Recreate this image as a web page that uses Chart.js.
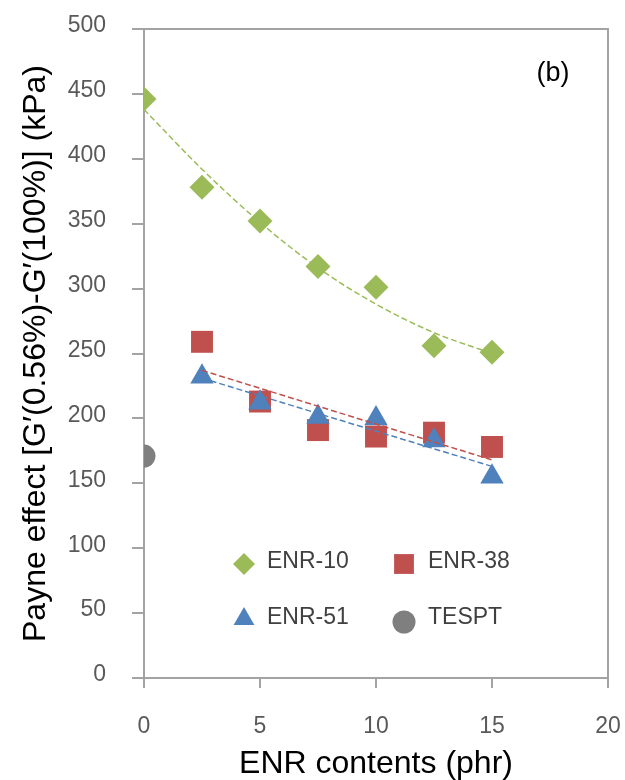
<!DOCTYPE html>
<html>
<head>
<meta charset="utf-8">
<script src="https://cdn.jsdelivr.net/npm/chart.js@4.4.1/dist/chart.umd.min.js"></script>
<style>
  html, body { margin: 0; padding: 0; background: #ffffff; }
  #wrap { width: 625px; height: 780px; position: relative; }
</style>
</head>
<body>
<div id="wrap"><canvas id="c" width="625" height="780"></canvas></div>
<script>
// ---- data ----
const enrContents = [2.5, 5, 7.5, 10, 12.5, 15];
const enr10X = [0, 2.5, 5, 7.5, 10, 12.5, 15];
const enr10Y = [446, 378, 352, 317, 301, 256, 251];
const enr38Y = [259, 213, 191, 186, 189, 178];
const enr51Y = [232, 212, 201, 200, 183, 155];
const tesptX = [0];
const tesptY = [171];

// trend lines (as drawn in the reference)
const trend10X = [0, 2.5, 5, 7.5, 10, 12.5, 15];
const trend10Y = [438, 392, 351, 316, 288, 266, 250];
const trend38X = [2.5, 15];
const trend38Y = [237, 168];
const trend51X = [2.5, 15];
const trend51Y = [231, 163];

const xTicks = [0, 5, 10, 15, 20];
const yTicks = [0, 50, 100, 150, 200, 250, 300, 350, 400, 450, 500];

const GREEN = '#9BBB59', RED = '#C0504D', BLUE = '#4F81BD', GRAY = '#7F7F7F';
const AXIS = '#A3A3A3';

const pts = (xs, ys) => xs.map((x, i) => ({ x: x, y: ys[i] }));

function trendDs(label, xs, ys, color) {
  return {
    label: label, data: pts(xs, ys), showLine: true, borderColor: color,
    borderWidth: 1.5, borderDash: [6, 3], pointRadius: 0, pointHoverRadius: 0,
    fill: false, tension: 0.4, cubicInterpolationMode: 'monotone'
  };
}
function markDs(label, xs, ys, color, style, radius) {
  return {
    label: label, data: pts(xs, ys), showLine: false, backgroundColor: color,
    borderColor: color, borderWidth: 0, pointStyle: style, pointRadius: radius,
    pointHoverRadius: radius
  };
}

const datasets = [
  trendDs('ENR-10 trend', trend10X, trend10Y, GREEN),
  trendDs('ENR-38 trend', trend38X, trend38Y, RED),
  trendDs('ENR-51 trend', trend51X, trend51Y, BLUE),
  markDs('ENR-51', enrContents, enr51Y, BLUE, 'triangle', 13.5),
  markDs('ENR-38', enrContents, enr38Y, RED, 'rect', 15.5),
  markDs('ENR-10', enr10X, enr10Y, GREEN, 'rectRot', 12.5),
  markDs('TESPT', tesptX, tesptY, GRAY, 'circle', 11.5)
];

// legend layout inside the plot (2 x 2)
const legendItems = [
  { label: 'ENR-10', mx: 244, my: 564, tx: 267, ty: 562, r: 11 },
  { label: 'ENR-38', mx: 404, my: 564, tx: 428, ty: 562, r: 14 },
  { label: 'ENR-51', mx: 244, my: 619, tx: 267, ty: 618, r: 12 },
  { label: 'TESPT',  mx: 404, my: 622, tx: 428, ty: 618, r: 11.5 }
];

const framePlugin = {
  id: 'frame',
  beforeDatasetsDraw(chart) {
    const a = chart.chartArea, ctx = chart.ctx;
    ctx.save();
    ctx.strokeStyle = AXIS;
    ctx.lineWidth = 2;
    ctx.beginPath();
    ctx.moveTo(a.left, a.top);
    ctx.lineTo(a.right, a.top);
    ctx.lineTo(a.right, a.bottom);
    ctx.stroke();
    ctx.restore();
  },
  afterDraw(chart) {
    const ctx = chart.ctx;
    ctx.save();
    legendItems.forEach(it => {
      const ds = chart.data.datasets.find(d => d.label === it.label);
      ctx.fillStyle = ds.backgroundColor;
      ctx.strokeStyle = ds.backgroundColor;
      ctx.lineWidth = 0;
      Chart.helpers.drawPoint(ctx, { pointStyle: ds.pointStyle, radius: it.r, borderWidth: 0, rotation: 0 }, it.mx, it.my);
      ctx.fillStyle = '#404040';
      ctx.font = '23px "Liberation Sans", Arial, sans-serif';
      ctx.textAlign = 'left';
      ctx.textBaseline = 'middle';
      ctx.fillText(it.label, it.tx, it.ty);
    });
    ctx.fillStyle = '#000000';
    ctx.font = '27px "Liberation Sans", Arial, sans-serif';
    ctx.textAlign = 'center';
    ctx.textBaseline = 'middle';
    ctx.fillText('(b)', 553, 74);
    ctx.restore();
  }
};

function clearPad(s) {
  s.paddingTop = 0; s.paddingBottom = 0; s.paddingLeft = 0; s.paddingRight = 0;
}

new Chart(document.getElementById('c'), {
  type: 'scatter',
  data: { datasets: datasets },
  options: {
    responsive: false,
    animation: false,
    devicePixelRatio: 1,
    layout: { padding: { top: 29, right: 17, left: 0, bottom: 0 } },
    plugins: { legend: { display: false }, tooltip: { enabled: false } },
    scales: {
      x: {
        type: 'linear', min: 0, max: 20,
        afterBuildTicks: s => { s.ticks = xTicks.map(v => ({ value: v })); },
        afterFit: s => { s.height = 102; clearPad(s); },
        grid: { drawOnChartArea: false, drawTicks: true, tickLength: 10, color: AXIS, lineWidth: 2 },
        border: { display: true, color: AXIS, width: 2 },
        ticks: { color: '#595959', font: { family: '"Liberation Sans", Arial, sans-serif', size: 23 }, padding: 25, maxRotation: 0 },
        title: { display: true, text: 'ENR contents (phr)', color: '#000000',
                 font: { family: '"Liberation Sans", Arial, sans-serif', size: 32, lineHeight: 1 },
                 padding: { top: 0, bottom: 0 } }
      },
      y: {
        type: 'linear', min: 0, max: 500,
        afterBuildTicks: s => { s.ticks = yTicks.map(v => ({ value: v })); },
        afterFit: s => { s.width = 144; clearPad(s); },
        grid: { drawOnChartArea: false, drawTicks: true, tickLength: 12, color: AXIS, lineWidth: 2 },
        border: { display: true, color: AXIS, width: 2 },
        ticks: { color: '#595959', font: { family: '"Liberation Sans", Arial, sans-serif', size: 23 }, padding: 26, labelOffset: -3 },
        title: { display: true, text: 'Payne effect [G\u2032(0.56%)-G\u2032(100%)] (kPa)', color: '#000000',
                 font: { family: '"Liberation Sans", Arial, sans-serif', size: 32, lineHeight: 1 },
                 padding: { top: 20, bottom: 0 } }
      }
    }
  },
  plugins: [framePlugin]
});
</script>
</body>
</html>
